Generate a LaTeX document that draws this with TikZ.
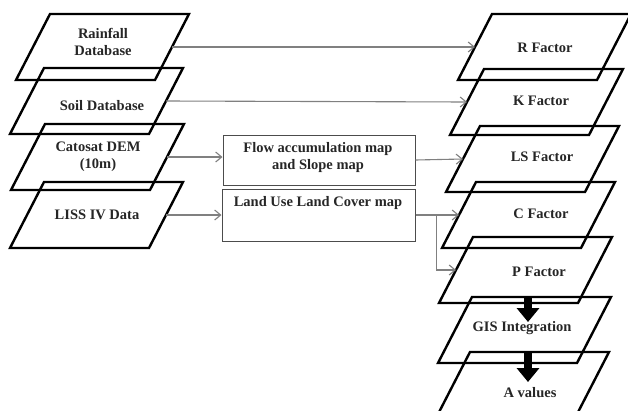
\documentclass[tikz,border=0pt]{standalone}
\usepackage{fontspec}
\setmainfont{Liberation Serif}
\usetikzlibrary{arrows.meta,calc}
\newcommand\mypara[3]{%
  \draw[paraline] (#2,#3) -- ++(139,0) -- ++(-34,66) -- ++(-139,0) -- cycle;
  \coordinate (#1-w) at ({#2-17},{#3+33});
  \coordinate (#1-e) at ({#2+139-17},{#3+33});
}
\begin{document}
\begin{tikzpicture}[x=1pt,y=-1pt,
  paraline/.style={line width=2.4pt, black, line join=miter},
  txt/.style={font=\bfseries\fontsize{14.5}{17}\selectfont, align=center, text=black!85, inner sep=0pt},
  boxnode/.style={draw=black!70, line width=1pt, inner sep=0pt},
  conn/.style={draw=black!50, line width=1.1pt, -{Straight Barb[length=6pt,width=10pt]}},
  bigarrow/.style={draw=black, line width=7.5pt, -{Triangle[length=14pt,width=22pt]}}
]
\clip (0,0) rectangle (628,410);
\fill[white] (0,0) rectangle (628,410);

% left parallelograms
\mypara{rain}{50}{14}
\mypara{soil}{44}{68}
\mypara{cat}{45}{124}
\mypara{liss}{44}{182}

% right parallelograms
\mypara{rf}{492}{14}
\mypara{kf}{484}{69}
\mypara{lsf}{480}{126}
\mypara{cf}{476}{182}
\mypara{pf}{473}{237}
\mypara{gis}{472}{297}
\mypara{av}{470}{352}

% texts
\node[txt] (rainT) at (103,41.5) {Rainfall\\Database};
\node[txt] (soilT) at (102,106) {Soil Database};
\node[txt] (catT) at (98,156.5) {Catosat DEM\\(10m)};
\node[txt] (lissT) at (97,215) {LISS IV Data};

\node[txt] (rfT) at (545,48) {R Factor};
\node[txt] (kfT) at (541,101) {K Factor};
\node[txt] (lsfT) at (542,157) {LS Factor};
\node[txt] (cfT) at (541,214) {C Factor};
\node[txt] (pfT) at (539,272) {P Factor};
\node[txt] (gisT) at (522,328) {GIS Integration};
\node[txt] (avT) at (530,393) {A values};

% boxes
\node[boxnode, minimum width=192pt, minimum height=50pt] (flow) at (319,160) {};
\node[txt] (flowT) at (318,157.5) {Flow accumulation map\\and Slope map};
\node[boxnode, minimum width=193pt, minimum height=52pt] (lu) at (318.5,215) {};
\node[txt] (luT) at (318,203) {Land Use Land Cover map};

% connectors
\draw[conn] (rain-e) -- (rf-w);
\draw[conn] (soil-e) -- (kf-w);
\draw[conn] (cat-e) -- (flow.west |- cat-e);
\draw[conn] (liss-e) -- (lu.west |- liss-e);
\draw[conn] (flow.east) -- (lsf-w);
\draw[conn] (lu.east) -- (cf-w);
\draw[conn] (lu.east) -- ++(21,0) coordinate (br) |- (pf-w);

% thick arrows
\coordinate (a1s) at (528,296);
\coordinate (a1e) at (528,322);
\coordinate (a2s) at (528,352);
\coordinate (a2e) at (528,382);
\draw[bigarrow] (a1s) -- (a1e);
\draw[bigarrow] (a2s) -- (a2e);
\end{tikzpicture}
\end{document}
